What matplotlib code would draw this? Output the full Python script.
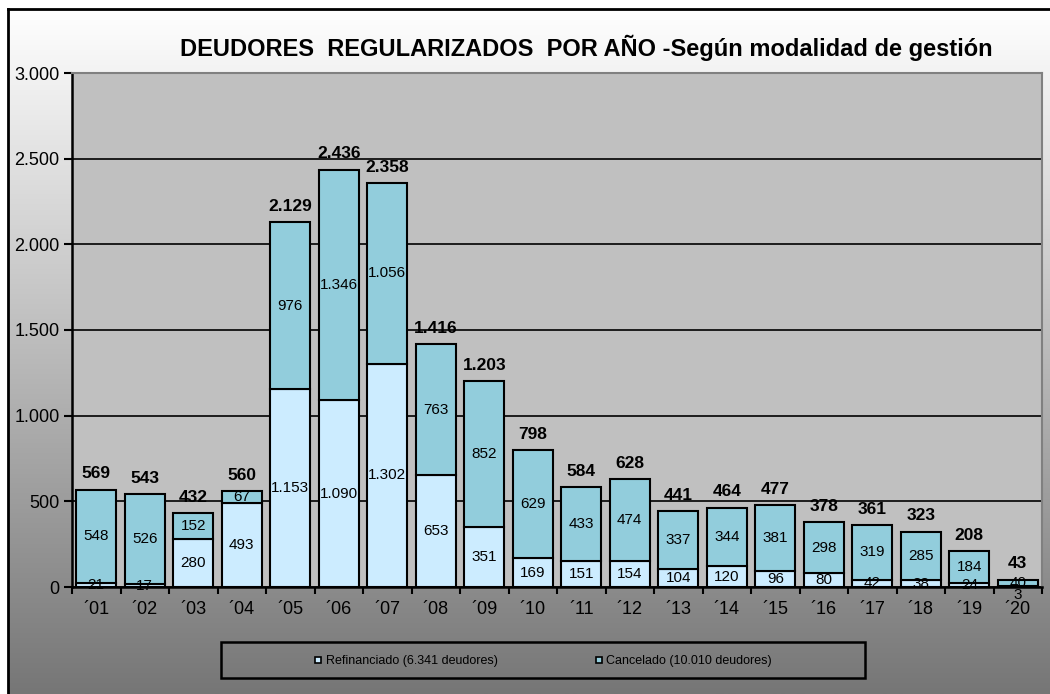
import numpy as np
import matplotlib.pyplot as plt
from matplotlib.lines import Line2D
from matplotlib.patches import Rectangle
from matplotlib.colors import LinearSegmentedColormap

years = ['´01', '´02', '´03', '´04', '´05', '´06', '´07', '´08', '´09', '´10',
         '´11', '´12', '´13', '´14', '´15', '´16', '´17', '´18', '´19', '´20']
refinanciado = [21, 17, 280, 493, 1153, 1090, 1302, 653, 351, 169,
                151, 154, 104, 120, 96, 80, 42, 38, 24, 3]
cancelado = [548, 526, 152, 67, 976, 1346, 1056, 763, 852, 629,
             433, 474, 337, 344, 381, 298, 319, 285, 184, 40]
yticks = [0, 500, 1000, 1500, 2000, 2500, 3000]
legend_labels = ['Refinanciado (6.341 deudores)', 'Cancelado (10.010 deudores)']
title = 'DEUDORES  REGULARIZADOS  POR AÑO -Según modalidad de gestión'

col_ref = '#CCECFF'
col_can = '#92CDDC'

plt.rcParams['font.family'] = ['Liberation Sans', 'DejaVu Sans']


def miles(v):
    return f'{v:,}'.replace(',', '.')


W, H = 1050, 694
fig = plt.figure(figsize=(W / 100, H / 100), dpi=100)
fig.patch.set_facecolor('white')

# gradient background inside the outer frame
bg = fig.add_axes([8 / W, 0, 1 - 8 / W, 1 - 9 / H])
bg.set_zorder(-5)
grad = np.linspace(1, 0, 256).reshape(-1, 1)
bg.imshow(grad, aspect='auto', cmap=LinearSegmentedColormap.from_list('g', ['#767676', '#ffffff']),
          extent=[0, 1, 0, 1])
bg.set_xticks([])
bg.set_yticks([])
for s in ['bottom', 'right']:
    bg.spines[s].set_visible(False)
for s in ['left', 'top']:
    bg.spines[s].set_linewidth(2)
    bg.spines[s].set_color('black')

ax = fig.add_axes([72 / W, 1 - 587 / H, 970 / W, 514 / H])
ax.set_facecolor('#C0C0C0')

x = np.arange(len(years))
ref = np.array(refinanciado)
can = np.array(cancelado)
tot = ref + can
bw = 0.83

ax.bar(x, ref, bw, color=col_ref, edgecolor='black', linewidth=1.5, zorder=3)
ax.bar(x, can, bw, bottom=ref, color=col_can, edgecolor='black', linewidth=1.5, zorder=3)

for i in range(len(x)):
    if ref[i] < 10:
        ax.annotate(miles(ref[i]), (x[i], 0), xytext=(0, -1), textcoords='offset points',
                    ha='center', va='top', fontsize=11, zorder=4, annotation_clip=False)
    else:
        ax.text(x[i], ref[i] / 2, miles(ref[i]), ha='center', va='center', fontsize=11, zorder=4)
    ax.text(x[i], ref[i] + can[i] / 2, miles(can[i]), ha='center', va='center', fontsize=11, zorder=4)
    ax.annotate(miles(tot[i]), (x[i], tot[i]), xytext=(0, 6), textcoords='offset points',
                ha='center', va='bottom', fontsize=12.5, fontweight='bold', zorder=4)

ax.set_xlim(-0.5, len(x) - 0.5)
ax.set_ylim(0, 3000)
ax.set_yticks(yticks)
ax.set_yticklabels([miles(v) for v in yticks])
ax.set_xticks(x)
ax.set_xticklabels(years)
ax.set_xticks(np.arange(-0.5, len(x), 1), minor=True)
ax.tick_params(axis='x', which='major', length=0, pad=10, labelsize=13)
ax.tick_params(axis='x', which='minor', length=5, width=1.5, direction='out')
ax.tick_params(axis='y', length=6, width=1.5, pad=3, labelsize=13)

ax.yaxis.grid(True, color='black', linewidth=1.2, zorder=1)
ax.set_axisbelow(True)
for s in ['left', 'bottom']:
    ax.spines[s].set_linewidth(1.8)
    ax.spines[s].set_color('black')
for s in ['top', 'right']:
    ax.spines[s].set_linewidth(1.5)
    ax.spines[s].set_color('#808080')

fig.text(586 / W, 1 - 48 / H, title, ha='center', va='center', fontsize=17, fontweight='bold')

# legend
fig.patches.append(Rectangle((221 / W, 1 - 678 / H), 644 / W, 36 / H, transform=fig.transFigure,
                             fill=False, edgecolor='black', linewidth=1.8))
handles = [Line2D([], [], marker='s', ls='', markersize=5, markerfacecolor=c,
                  markeredgecolor='black', markeredgewidth=1.2) for c in [col_ref, col_can]]
fig.legend(handles, legend_labels, loc='center left', bbox_to_anchor=(308 / W, 1 - 661 / H),
           ncol=2, frameon=False, fontsize=9, handlelength=0.6, handletextpad=0.3,
           columnspacing=7.8, borderpad=0)

fig.savefig('out.png', dpi=100)
